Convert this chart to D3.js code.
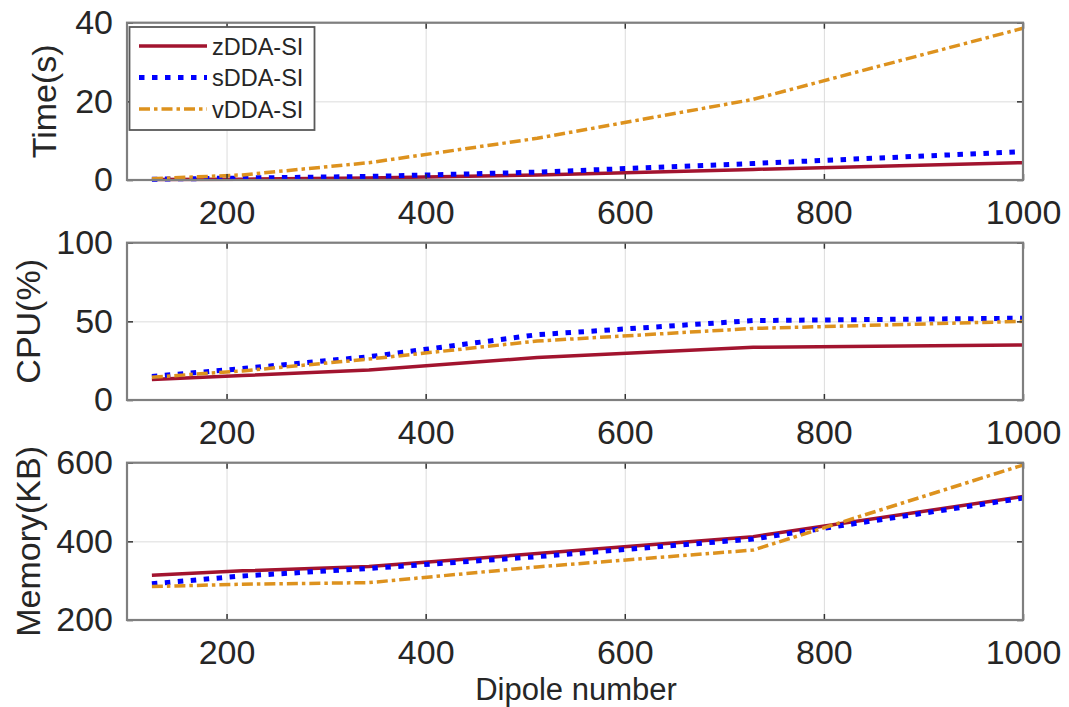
<!DOCTYPE html>
<html>
<head>
<meta charset="utf-8">
<script src="https://cdn.jsdelivr.net/npm/d3@7"></script>
<style>
  html, body { margin: 0; padding: 0; background: #fff; }
  svg { display: block; font-family: "Liberation Sans", Arial, sans-serif; }
</style>
</head>
<body>
<svg id="chart" width="1069" height="707"></svg>
<script>
// Dipole counts (5^3 ... 10^3)
const dipoles = [125, 216, 343, 512, 729, 1000];

// Run time in seconds
const timeZ = [0.1, 0.2, 0.5, 1.3, 2.7, 4.4];
const timeS = [0.2, 0.5, 0.9, 2.0, 4.2, 7.2];
const timeV = [0.3, 1.3, 4.4, 10.6, 20.5, 38.6];

// CPU usage in percent
const cpuZ = [13, 15.5, 19, 27, 33.5, 35];
const cpuS = [15, 20, 27.5, 41.5, 50.5, 52];
const cpuV = [14.5, 18.5, 26, 37.5, 45.5, 50];

// Memory in KB
const memZ = [314, 325, 336, 369, 412, 514];
const memS = [292, 312, 331, 361, 406, 510];
const memV = [285, 291, 295, 335, 378, 594];

const seriesNames = ["zDDA-SI", "sDDA-SI", "vDDA-SI"];
const xTicks = [200, 400, 600, 800, 1000];
const timeTicks = [0, 20, 40];
const cpuTicks = [0, 50, 100];
const memTicks = [200, 400, 600];
const xLabel = "Dipole number";

const styles = [
  { color: "#A2142F", width: 3.5, dash: null, cap: "butt" },
  { color: "#0000FF", width: 5, dash: "5.5,7.5", cap: "butt" },
  { color: "#DD921E", width: 3.5, dash: "11,4,3.5,4", cap: "butt" }
];

const panels = [
  { label: "Time(s)", domain: [0, 40], ticks: timeTicks, series: [timeZ, timeS, timeV], top: 22.7 },
  { label: "CPU(%)", domain: [0, 100], ticks: cpuTicks, series: [cpuZ, cpuS, cpuV], top: 242.7 },
  { label: "Memory(KB)", domain: [200, 600], ticks: memTicks, series: [memZ, memS, memV], top: 462.7 }
];

const left = 127, right = 1023, ph = 157.3;
const textColor = "#262626";
const svg = d3.select("#chart");

const x = d3.scaleLinear().domain([100, 1000]).range([left, right]);

panels.forEach((p, pi) => {
  const y = d3.scaleLinear().domain(p.domain).range([p.top + ph, p.top]);
  const g = svg.append("g");

  // grid
  g.append("g")
    .attr("transform", `translate(0,${p.top + ph})`)
    .call(d3.axisBottom(x).tickValues(xTicks).tickSize(-ph).tickFormat(""))
    .call(a => a.select(".domain").remove())
    .call(a => a.selectAll("line").attr("stroke", "#dcdcdc").attr("stroke-width", 1));
  g.append("g")
    .attr("transform", `translate(${left},0)`)
    .call(d3.axisLeft(y).tickValues(p.ticks).tickSize(-(right - left)).tickFormat(""))
    .call(a => a.select(".domain").remove())
    .call(a => a.selectAll("line").attr("stroke", "#dcdcdc").attr("stroke-width", 1));

  // lines
  p.series.forEach((vals, si) => {
    const st = styles[si];
    const line = d3.line().x((d, i) => x(dipoles[i])).y(d => y(d));
    g.append("path")
      .datum(vals)
      .attr("d", line)
      .attr("fill", "none")
      .attr("stroke", st.color)
      .attr("stroke-width", st.width)
      .attr("stroke-linecap", st.cap)
      .attr("stroke-linejoin", "round")
      .attr("stroke-dasharray", st.dash);
  });

  // inward tick marks on all four sides
  const tk = 6;
  const tickStyle = a => {
    a.select(".domain").remove();
    a.selectAll("line").attr("stroke", "#333").attr("stroke-width", 1.5);
  };
  g.append("g").attr("transform", `translate(0,${p.top + ph})`)
    .call(d3.axisBottom(x).tickValues(xTicks).tickSize(-tk).tickFormat("")).call(tickStyle);
  g.append("g").attr("transform", `translate(0,${p.top})`)
    .call(d3.axisTop(x).tickValues(xTicks).tickSize(-tk).tickFormat("")).call(tickStyle);
  g.append("g").attr("transform", `translate(${left},0)`)
    .call(d3.axisLeft(y).tickValues(p.ticks).tickSize(-tk).tickFormat("")).call(tickStyle);
  g.append("g").attr("transform", `translate(${right},0)`)
    .call(d3.axisRight(y).tickValues(p.ticks).tickSize(-tk).tickFormat("")).call(tickStyle);

  // box
  g.append("rect")
    .attr("x", left).attr("y", p.top)
    .attr("width", right - left).attr("height", ph)
    .attr("fill", "none").attr("stroke", "#7f7f7f").attr("stroke-width", 2.2);

  // tick labels
  g.append("g").attr("transform", `translate(0,${p.top + ph})`)
    .call(d3.axisBottom(x).tickValues(xTicks).tickSize(0).tickPadding(20).tickFormat(d3.format("d")))
    .call(a => a.select(".domain").remove())
    .call(a => a.selectAll("text").attr("font-size", 34).attr("fill", textColor)
      .attr("font-family", "Liberation Sans, Arial, sans-serif"));
  g.append("g").attr("transform", `translate(${left},0)`)
    .call(d3.axisLeft(y).tickValues(p.ticks).tickSize(0).tickPadding(14).tickFormat(d3.format("d")))
    .call(a => a.select(".domain").remove())
    .call(a => a.selectAll("text").attr("font-size", 34).attr("fill", textColor)
      .attr("font-family", "Liberation Sans, Arial, sans-serif"));

  // y label
  const lx = pi === 0 ? 56 : 40;
  svg.append("text")
    .attr("transform", `translate(${lx},${p.top + ph / 2}) rotate(-90)`)
    .attr("text-anchor", "middle")
    .attr("font-size", 34)
    .attr("fill", textColor)
    .text(p.label);
});

// x label
svg.append("text")
  .attr("x", (left + right) / 2 + 1)
  .attr("y", 700)
  .attr("text-anchor", "middle")
  .attr("font-size", 31)
  .attr("fill", textColor)
  .text(xLabel);

// legend
const lg = svg.append("g");
lg.append("rect")
  .attr("x", 129.5).attr("y", 27)
  .attr("width", 185).attr("height", 103)
  .attr("fill", "#fff").attr("stroke", "#595959").attr("stroke-width", 1.8);
const rowY = d3.scalePoint().domain(seriesNames).range([46, 109]);
seriesNames.forEach((name, i) => {
  const st = styles[i];
  const yy = rowY(name);
  lg.append("line")
    .attr("x1", 139).attr("x2", 207).attr("y1", yy).attr("y2", yy)
    .attr("stroke", st.color).attr("stroke-width", st.width)
    .attr("stroke-dasharray", st.dash);
  lg.append("text")
    .attr("x", 212).attr("y", yy + 8.5)
    .attr("font-size", 23.5).attr("fill", textColor)
    .text(name);
});
</script>
</body>
</html>
